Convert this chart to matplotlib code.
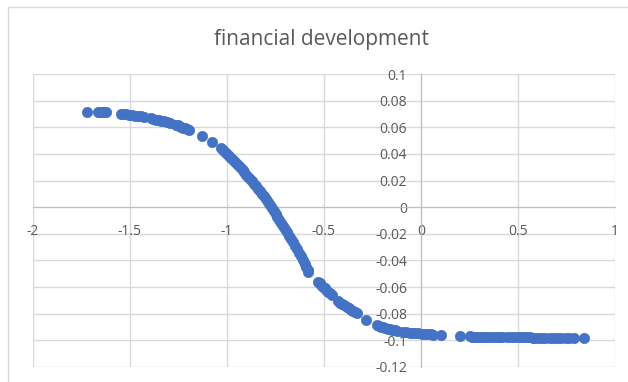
import numpy as np
import matplotlib.pyplot as plt
from matplotlib.patches import Rectangle

plt.rcParams['font.family'] = ['Open Sans', 'DejaVu Sans']

# scatter points
x_vals = [
    -1.720, -1.665, -1.655, -1.645, -1.635, -1.625,
    -1.545, -1.535, -1.520, -1.505, -1.490, -1.475, -1.460, -1.445, -1.430,
    -1.390, -1.380, -1.365, -1.350, -1.340, -1.325, -1.310, -1.295,
    -1.265, -1.255, -1.245, -1.235, -1.225, -1.215, -1.205, -1.195,
    -1.130, -1.075,
    -1.030, -1.020, -1.010, -1.000, -0.990, -0.980, -0.970, -0.960, -0.950,
    -0.940, -0.930, -0.920, -0.910, -0.900, -0.890, -0.880, -0.870, -0.860,
    -0.850, -0.840, -0.830, -0.820, -0.810, -0.800, -0.790, -0.780, -0.770,
    -0.760, -0.750, -0.740, -0.730, -0.720, -0.710, -0.700, -0.690, -0.680,
    -0.670, -0.660, -0.650, -0.640, -0.630, -0.620, -0.610,
    -0.600, -0.592, -0.585, -0.580,
    -0.530, -0.522, -0.515, -0.505, -0.497, -0.488, -0.478, -0.468, -0.460,
    -0.428, -0.418, -0.405, -0.395, -0.384, -0.372, -0.360, -0.350, -0.340, -0.330,
    -0.282,
    -0.225, -0.215, -0.205, -0.195, -0.185, -0.172, -0.160, -0.148, -0.135, -0.122,
    -0.095, -0.075, -0.055, -0.045, -0.030, -0.015, 0.005, 0.020, 0.035, 0.050, 0.060,
    0.105,
    0.200,
    0.255, 0.265, 0.275, 0.285, 0.300, 0.315, 0.330, 0.345, 0.360, 0.380, 0.395,
    0.405, 0.420, 0.445, 0.465, 0.480, 0.500, 0.515, 0.530, 0.545, 0.560, 0.575,
    0.590, 0.610, 0.625, 0.640, 0.665, 0.680, 0.700, 0.720, 0.745, 0.765, 0.790,
    0.840,
]
y_vals = [
    0.0715, 0.0714, 0.0714, 0.0713, 0.0712, 0.0711,
    0.0700, 0.0699, 0.0697, 0.0694, 0.0691, 0.0688, 0.0685, 0.0681, 0.0677,
    0.0666, 0.0663, 0.0658, 0.0653, 0.0649, 0.0644, 0.0639, 0.0633,
    0.0619, 0.0614, 0.0609, 0.0603, 0.0597, 0.0591, 0.0585, 0.0578,
    0.0535, 0.0487,
    0.0445, 0.0432, 0.0418, 0.0403, 0.0388, 0.0373, 0.0357, 0.0342, 0.0326,
    0.0310, 0.0294, 0.0278, 0.0261, 0.0244, 0.0227, 0.0210, 0.0193, 0.0175,
    0.0157, 0.0139, 0.0120, 0.0101, 0.0081, 0.0061, 0.0038, 0.0015, -0.0005,
    -0.0026, -0.0048, -0.0070, -0.0093, -0.0116, -0.0140, -0.0164, -0.0189, -0.0214,
    -0.0239, -0.0265, -0.0291, -0.0317, -0.0343, -0.0369, -0.0395,
    -0.0425, -0.0452, -0.0475, -0.0490,
    -0.0562, -0.0573, -0.0584, -0.0598, -0.0610, -0.0622, -0.0635, -0.0648, -0.0660,
    -0.0708, -0.0718, -0.0729, -0.0738, -0.0750, -0.0760, -0.0770, -0.0778, -0.0786, -0.0793,
    -0.0848,
    -0.0885, -0.0891, -0.0897, -0.0902, -0.0907, -0.0912, -0.0917, -0.0921, -0.0925, -0.0929,
    -0.0935, -0.0939, -0.0942, -0.0944, -0.0946, -0.0948, -0.0950, -0.0952, -0.0954, -0.0955, -0.0956,
    -0.0960,
    -0.0965,
    -0.0970, -0.0971, -0.0972, -0.0972, -0.0973, -0.0973, -0.0974, -0.0974, -0.0975, -0.0975, -0.0975,
    -0.0976, -0.0976, -0.0976, -0.0977, -0.0977, -0.0977, -0.0978, -0.0978, -0.0978, -0.0978, -0.0979,
    -0.0979, -0.0979, -0.0979, -0.0979, -0.0979, -0.0980, -0.0980, -0.0980, -0.0980, -0.0980, -0.0980,
    -0.0980,
]

x_ticks = [-2, -1.5, -1, -0.5, 0, 0.5, 1]
x_labels = ['-2', '-1.5', '-1', '-0.5', '0', '0.5', '1']
y_ticks = [-0.12, -0.1, -0.08, -0.06, -0.04, -0.02, 0, 0.02, 0.04, 0.06, 0.08, 0.1]
y_labels = ['-0.12', '-0.1', '-0.08', '-0.06', '-0.04', '-0.02', '0',
            '0.02', '0.04', '0.06', '0.08', '0.1']

grid_c = '#d9d9d9'
text_c = '#595959'
blue = '#4472c4'

fig = plt.figure(figsize=(6.28, 3.82), dpi=100)
fig.patch.set_facecolor('white')
ax = fig.add_axes([33/628, 1-367/382, (615-33)/628, (367-74)/382])

ax.scatter(x_vals, y_vals, s=55, color=blue, edgecolors=blue, linewidths=0.5, zorder=3, clip_on=False)

ax.set_xlim(-2, 1)
ax.set_ylim(-0.12, 0.1)
ax.set_xticks(x_ticks)
ax.set_xticklabels(x_labels)
ax.set_yticks(y_ticks)
ax.set_yticklabels(y_labels)

# gridlines including the outer edges
for xv in x_ticks:
    ax.axvline(xv, color=grid_c, lw=1.0, zorder=1)
for yv in y_ticks:
    ax.axhline(yv, color=grid_c, lw=1.0, zorder=1)

for side in ['top', 'right']:
    ax.spines[side].set_visible(False)
ax.spines['left'].set_position(('data', 0))
ax.spines['bottom'].set_position(('data', 0))
ax.spines['left'].set_color('#bfbfbf')
ax.spines['bottom'].set_color('#bfbfbf')
ax.spines['left'].set_zorder(2)
ax.spines['bottom'].set_zorder(2)

ax.tick_params(axis='both', length=0, colors=text_c, labelsize=10)
ax.tick_params(axis='y', pad=10)
ax.tick_params(axis='x', pad=12)

fig.text(322/628, 1-40/382, 'financial development', ha='center', va='center',
         fontsize=15, color=text_c)

# chart area border
fig.patches.append(Rectangle((8/628, -0.1), 1.0, 1-7/382+0.1, transform=fig.transFigure,
                             fill=False, edgecolor=grid_c, lw=1.0))

fig.savefig('out.png', dpi=100)
